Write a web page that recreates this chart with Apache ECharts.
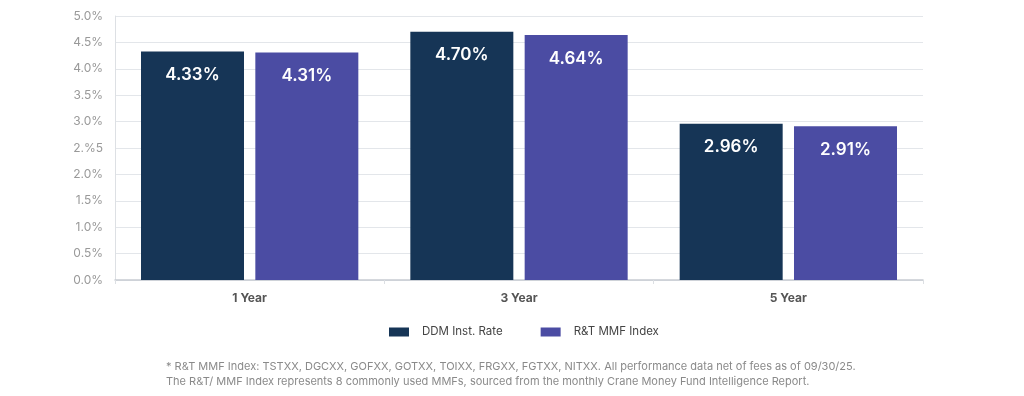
<!DOCTYPE html>
<html><head><meta charset="utf-8">
<script src="https://cdn.jsdelivr.net/npm/echarts@6/dist/echarts.min.js"></script>
<style>html,body{margin:0;padding:0;background:#fff}#c{width:1024px;height:396px}</style>
</head><body><div id="c"></div>
<script>
const categories = ['1 Year', '3 Year', '5 Year'];
const ddmValues = [4.33, 4.70, 2.96];
const rtValues = [4.31, 4.64, 2.91];
const seriesNames = ['DDM Inst. Rate', 'R&T MMF Index'];
const tickLabels = ['0.0%', '0.5%', '1.0%', '1.5%', '2.0%', '2.%5', '3.0%', '3.5%', '4.0%', '4.5%', '5.0%'];
const footnote = [
  '* R&T MMF Index: TSTXX, DGCXX, GOFXX, GOTXX, TOIXX, FRGXX, FGTXX, NITXX. All performance data net of fees as of 09/30/25.',
  'The R&T/ MMF Index represents 8 commonly used MMFs, sourced from the monthly Crane Money Fund Intelligence Report.'
];

const font = 'Inter, "Noto Sans", sans-serif';
const chart = echarts.init(document.getElementById('c'));
const labelCfg = {
  show: true, position: 'insideTop', distance: 15, color: '#fff',
  fontSize: 17, fontWeight: 600, fontFamily: font,
  formatter: p => p.value.toFixed(2) + '%'
};
chart.setOption({
  animation: false,
  textStyle: { fontFamily: font },
  grid: { left: 115, right: 101, top: 16, bottom: 116, containLabel: false },
  legend: {
    bottom: 53, left: 384, itemWidth: 20, itemHeight: 9, itemGap: 38,
    icon: 'rect',
    textStyle: { color: '#444', fontSize: 11.5, fontFamily: font, padding: [0, 0, 0, 8] },
    data: seriesNames
  },
  xAxis: {
    type: 'category', data: categories,
    axisLine: { lineStyle: { color: '#c8ccd2', width: 1.5 } },
    axisTick: { show: true, length: 4, lineStyle: { color: '#dcdfe3' } },
    axisLabel: { color: '#555', fontWeight: 'bold', fontSize: 12, margin: 12 }
  },
  yAxis: {
    type: 'value', min: 0, max: 5, interval: 0.5,
    axisLine: { show: true, lineStyle: { color: '#dde0e4' } },
    axisTick: { show: false },
    splitLine: { lineStyle: { color: '#e3e6ea' } },
    axisLabel: {
      color: '#999', fontSize: 12, margin: 12,
      formatter: (v) => tickLabels[Math.round(v / 0.5)]
    }
  },
  series: [
    { name: seriesNames[0], type: 'bar', data: ddmValues, barWidth: 103, barGap: '11%',
      itemStyle: { color: '#163556' }, label: labelCfg },
    { name: seriesNames[1], type: 'bar', data: rtValues, barWidth: 103,
      itemStyle: { color: '#4b4ca3' }, label: labelCfg }
  ],
  graphic: footnote.map((t, i) => ({
    type: 'text', left: 166, top: 361 + i * 15,
    style: { text: t, fill: '#8a8a8a', fontSize: 11, fontFamily: font }
  }))
});
</script></body></html>
